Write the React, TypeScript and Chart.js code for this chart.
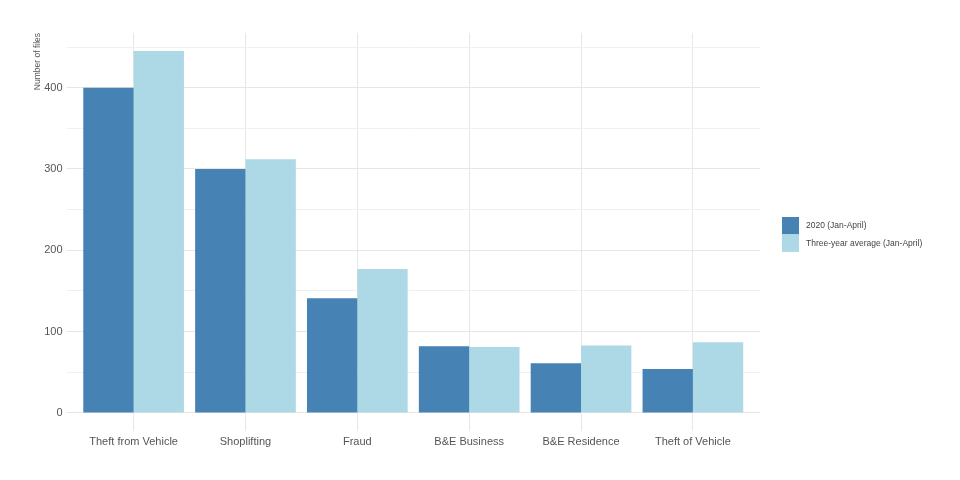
import React, { useEffect, useRef } from 'react';
import { Chart, registerables } from 'chart.js';

Chart.register(...registerables);

const categories = ['Theft from Vehicle', 'Shoplifting', 'Fraud', 'B&E Business', 'B&E Residence', 'Theft of Vehicle'];
const values2020 = [400, 300, 141, 82, 61, 54];
const valuesAverage = [445, 312, 177, 81, 83, 87];
const seriesLabels = ['2020 (Jan-April)', 'Three-year average (Jan-April)'];
const yTickValues = [0, 50, 100, 150, 200, 250, 300, 350, 400, 450];
const yLabeledTicks = [0, 100, 200, 300, 400];
const yAxisTitle = 'Number of files';

const COLORS = ['#4682B4', '#ADD8E6'];
const FONT = '"Liberation Sans", Arial, sans-serif';
const TEXT = '#555555';

const sideLegend = {
  id: 'sideLegend',
  afterDraw(chart: any) {
    const { ctx, chartArea } = chart;
    const x = chartArea.right + 22;
    let y = chartArea.top + 184;
    ctx.save();
    chart.data.datasets.forEach((ds: any) => {
      ctx.fillStyle = ds.backgroundColor;
      ctx.fillRect(x, y, 17, 17.4);
      ctx.fillStyle = '#444444';
      ctx.font = `8.5px ${FONT}`;
      ctx.textBaseline = 'middle';
      ctx.textAlign = 'left';
      ctx.fillText(ds.label, x + 24, y + 9);
      y += 17.5;
    });
    ctx.restore();
  },
};

export default function App() {
  const ref = useRef<HTMLCanvasElement | null>(null);

  useEffect(() => {
    if (!ref.current) return;
    const toPoints = (arr: number[]) => arr.map((v, i) => ({ x: i + 1, y: v }));
    const chart = new Chart(ref.current, {
      type: 'bar',
      data: {
        datasets: [
          { label: seriesLabels[0], data: toPoints(values2020), backgroundColor: COLORS[0], borderWidth: 0, categoryPercentage: 0.9, barPercentage: 1.0 },
          { label: seriesLabels[1], data: toPoints(valuesAverage), backgroundColor: COLORS[1], borderWidth: 0, categoryPercentage: 0.9, barPercentage: 1.0 },
        ],
      } as any,
      options: {
        animation: false,
        responsive: false,
        devicePixelRatio: 1,
        layout: { padding: { top: 33, right: 200, bottom: 0, left: 0 } },
        plugins: { legend: { display: false }, tooltip: { enabled: false } },
        scales: {
          x: {
            type: 'linear',
            min: 0.4,
            max: categories.length + 0.6,
            offset: false,
            border: { display: false },
            grid: { color: '#e8e8e8', lineWidth: 1, drawTicks: false, offset: false },
            afterBuildTicks: (scale: any) => {
              scale.ticks = categories.map((_, i) => ({ value: i + 1 }));
            },
            afterFit: (scale: any) => {
              scale.height = 49;
            },
            ticks: {
              padding: 4,
              color: TEXT,
              font: { family: FONT, size: 11 },
              maxRotation: 0,
              autoSkip: false,
              callback: (v: any) => categories[Math.round(Number(v)) - 1] ?? '',
            },
          },
          y: {
            min: -22.25,
            max: 467.25,
            border: { display: false },
            grid: {
              drawTicks: false,
              lineWidth: 1,
              color: (c: any) => (yLabeledTicks.includes(c.tick?.value) ? '#e6e6e6' : '#f0f0f0'),
            },
            afterBuildTicks: (scale: any) => {
              scale.ticks = yTickValues.map((v) => ({ value: v }));
            },
            afterFit: (scale: any) => {
              scale.width = 66.5;
            },
            ticks: {
              padding: 4,
              color: TEXT,
              font: { family: FONT, size: 11 },
              callback: (v: any) => (yLabeledTicks.includes(Number(v)) ? String(v) : ''),
            },
            title: {
              display: true,
              text: yAxisTitle,
              align: 'end',
              color: TEXT,
              font: { family: FONT, size: 8.5 },
              padding: { top: 32.5, bottom: 0 },
            },
          },
        },
      } as any,
      plugins: [sideLegend],
    });
    return () => chart.destroy();
  }, []);

  return (
    <div style={{ position: 'absolute', left: 0, top: 0, width: 960, height: 480, background: '#fff' }}>
      <canvas ref={ref} width={960} height={480} style={{ width: 960, height: 480, display: 'block' }} />
    </div>
  );
}
